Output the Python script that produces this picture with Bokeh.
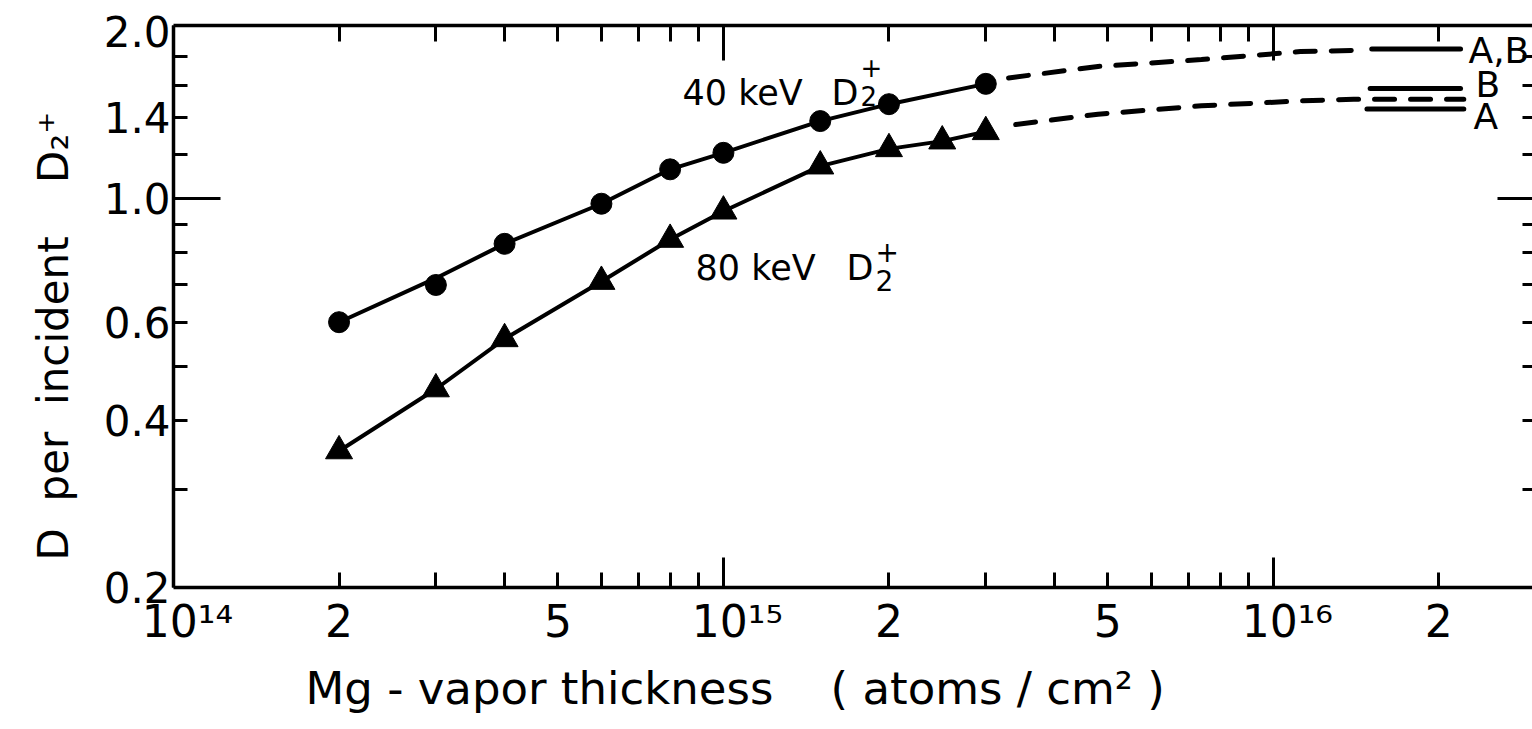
import numpy as np
from bokeh.plotting import figure
from bokeh.models import (LogAxis, FixedTicker, Label, Range1d, Title,
                          CustomJSTickFormatter)
from bokeh.embed import file_html
from bokeh.resources import INLINE

# ---- data: D yield per incident D2+ versus Mg-vapor thickness (atoms/cm^2) ----
thick_40 = [2e14, 3e14, 4e14, 6e14, 8e14, 1e15, 1.5e15, 2e15, 3e15]
yield_40 = [0.60, 0.70, 0.83, 0.98, 1.13, 1.21, 1.38, 1.48, 1.61]
curve_40 = [0.60, 0.72, 0.83, 0.98, 1.13, 1.21, 1.38, 1.48, 1.61]

thick_80 = [2e14, 3e14, 4e14, 6e14, 8e14, 1e15, 1.5e15, 2e15, 2.5e15, 3e15]
yield_80 = [0.352, 0.455, 0.56, 0.71, 0.845, 0.95, 1.145, 1.23, 1.27, 1.32]

# dashed extrapolations toward the thick-target limits
ext_thick_40 = [3.3e15, 4.8e15, 7.4e15, 1.12e16, 1.42e16]
ext_yield_40 = [1.65, 1.73, 1.78, 1.84, 1.85]
ext_thick_80 = [3.4e15, 4.8e15, 7.4e15, 1.12e16, 1.4e16, 2.22e16]
ext_yield_80 = [1.36, 1.42, 1.47, 1.50, 1.51, 1.51]

# equilibrium levels drawn at the right
eq_labels = ["A,B", "B", "A"]
eq_values = [1.86, 1.58, 1.45]
eq_start = [1.51e16, 1.50e16, 1.48e16]
eq_end = [2.19e16, 2.19e16, 2.22e16]

# axis ticks and labels
x_decades = [1e14, 1e15, 1e16]
x_label_vals = [1e14, 2e14, 5e14, 1e15, 2e15, 5e15, 1e16, 2e16]
x_label_text = ["\u00a0\u00a010¹⁴", "2", "5", "\u00a0\u00a010¹⁵", "2", "5",
                "\u00a0\u00a010¹⁶", "2"]
y_minor = [0.3, 0.4, 0.5, 0.6, 0.7, 0.8, 0.9, 1.2, 1.4, 1.6, 1.8]
y_label_vals = [0.2, 0.4, 0.6, 1.0, 1.4, 2.0]
y_label_text = ["0.2", "0.4", "0.6", "1.0", "1.4", "2.0"]

x_title = "Mg - vapor thickness\u00a0\u00a0\u00a0\u00a0( atoms / cm² )"
y_title = "D\u00a0\u00a0per\u00a0\u00a0incident\u00a0\u00a0\u00a0\u00a0D₂⁺"

# ---- layout ----
W, H = 1532, 729
FRAME_L, FRAME_R, FRAME_T, FRAME_B = 173, 1532, 25, 587
X_MIN, X_MAX = 1e14, 2.96e16
Y_MIN, Y_MAX = 0.2, 2.05
FONT = "DejaVu Sans"

PX_DEC_Y = (FRAME_B - FRAME_T) / np.log10(Y_MAX / Y_MIN)


def row_of(y):
    """data y -> canvas row"""
    return FRAME_B - np.log10(y / Y_MIN) * PX_DEC_Y


p = figure(width=W, height=H, x_axis_type="log", y_axis_type="log",
           x_range=Range1d(X_MIN, X_MAX), y_range=Range1d(Y_MIN, Y_MAX),
           output_backend="svg", toolbar_location=None,
           min_border_left=FRAME_L, min_border_right=W - FRAME_R,
           min_border_top=FRAME_T, min_border_bottom=H - FRAME_B)
p.outline_line_color = None
p.grid.visible = False
p.background_fill_color = "white"
p.border_fill_color = "white"

x_minor = [m * d for d in x_decades for m in range(2, 10) if m * d <= X_MAX]

no_text = CustomJSTickFormatter(code="return '';")


def tick_axis(ax, ticks, minor, major_in, minor_in, show_line=True):
    """an axis that draws only its line and inward ticks"""
    ax.ticker = FixedTicker(ticks=ticks, minor_ticks=minor)
    ax.formatter = no_text
    ax.major_tick_in = major_in
    ax.major_tick_out = 0
    ax.minor_tick_in = minor_in
    ax.minor_tick_out = 0
    ax.major_tick_line_width = 3
    ax.minor_tick_line_width = 3
    ax.major_tick_line_color = "black"
    ax.minor_tick_line_color = "black"
    ax.major_label_text_font_size = "1px"
    ax.major_label_text_color = None
    ax.major_label_standoff = 0
    ax.axis_line_width = 3.5
    ax.axis_line_color = "black" if show_line else None


def label_axis(ax, vals, texts, size, standoff):
    """an axis that draws only tick labels"""
    ax.ticker = FixedTicker(ticks=vals, minor_ticks=[])
    ax.formatter = CustomJSTickFormatter(
        args=dict(vals=vals, texts=texts),
        code="const i = vals.findIndex(v => Math.abs(v - tick) <= 1e-6 * v);"
             "return i >= 0 ? texts[i] : '';")
    ax.major_tick_in = 0
    ax.major_tick_out = 0
    ax.minor_tick_in = 0
    ax.minor_tick_out = 0
    ax.major_tick_line_color = None
    ax.minor_tick_line_color = None
    ax.axis_line_color = None
    ax.major_label_text_font = FONT
    ax.major_label_text_font_size = f"{size}px"
    ax.major_label_text_color = "black"
    ax.major_label_standoff = standoff


tick_axis(p.below[0], x_decades, x_minor, 30, 15)
tick_axis(p.left[0], [1.0], y_minor, 47, 14)

x_labels = LogAxis()
label_axis(x_labels, x_label_vals, x_label_text, 44, 8)
p.add_layout(x_labels, "below")

y_labels = LogAxis()
label_axis(y_labels, y_label_vals, y_label_text, 42, 3)
p.add_layout(y_labels, "left")

top_axis = LogAxis()
tick_axis(top_axis, x_decades, x_minor, 35, 16)
p.add_layout(top_axis, "above")

right_axis = LogAxis()
tick_axis(right_axis, [1.0], y_minor, 35, 10, show_line=False)
p.add_layout(right_axis, "right")

p.add_layout(Title(text=x_title, align="left", offset=305 - FRAME_L, standoff=21,
                   text_font=FONT, text_font_size="45px",
                   text_font_style="normal", text_color="black"), "below")
p.add_layout(Title(text=y_title, align="left", offset=FRAME_B - 560, standoff=45,
                   text_font=FONT, text_font_size="42px",
                   text_font_style="normal", text_color="black"), "left")

# ---- curves and points ----
p.line(thick_40, curve_40, line_width=4, color="black")
p.scatter(thick_40, yield_40, marker="circle", size=21, color="black")

p.line(thick_80, yield_80, line_width=4, color="black")
p.scatter(thick_80, yield_80, marker="triangle", size=27, color="black")

p.line(ext_thick_40, ext_yield_40, line_width=5, color="black",
       line_dash="20 16", line_cap="round")
p.line(ext_thick_80, ext_yield_80, line_width=5, color="black",
       line_dash="20 16", line_cap="round")

p.segment(x0=eq_start, y0=eq_values, x1=eq_end, y1=eq_values,
          line_width=5, color="black", line_cap="round")


def label(px, py, text, size, align="left", baseline="alphabetic"):
    """text inside the frame, anchored at a canvas pixel (column px, row py)"""
    p.add_layout(Label(x=px - FRAME_L, y=FRAME_B - py,
                       x_units="screen", y_units="screen",
                       text=text, text_font=FONT,
                       text_font_size=f"{size}px", text_color="black",
                       text_align=align, text_baseline=baseline))


# equilibrium tags
label(1468, row_of(eq_values[0]) + 2, eq_labels[0], 36, baseline="middle")
label(1475, 84, eq_labels[1], 36, baseline="middle")
label(1473, 116, eq_labels[2], 36, baseline="middle")

# curve tags
label(682, 92, "40 keV", 35)
label(831, 92, "D", 35)
label(860, 95, "2", 26)
label(860, 66, "+", 26)

label(695, 267, "80 keV", 35)
label(846, 267, "D", 35)
label(875, 280, "2", 28)
label(875, 251, "+", 28)

open("out.html", "w").write(file_html(p, INLINE))
